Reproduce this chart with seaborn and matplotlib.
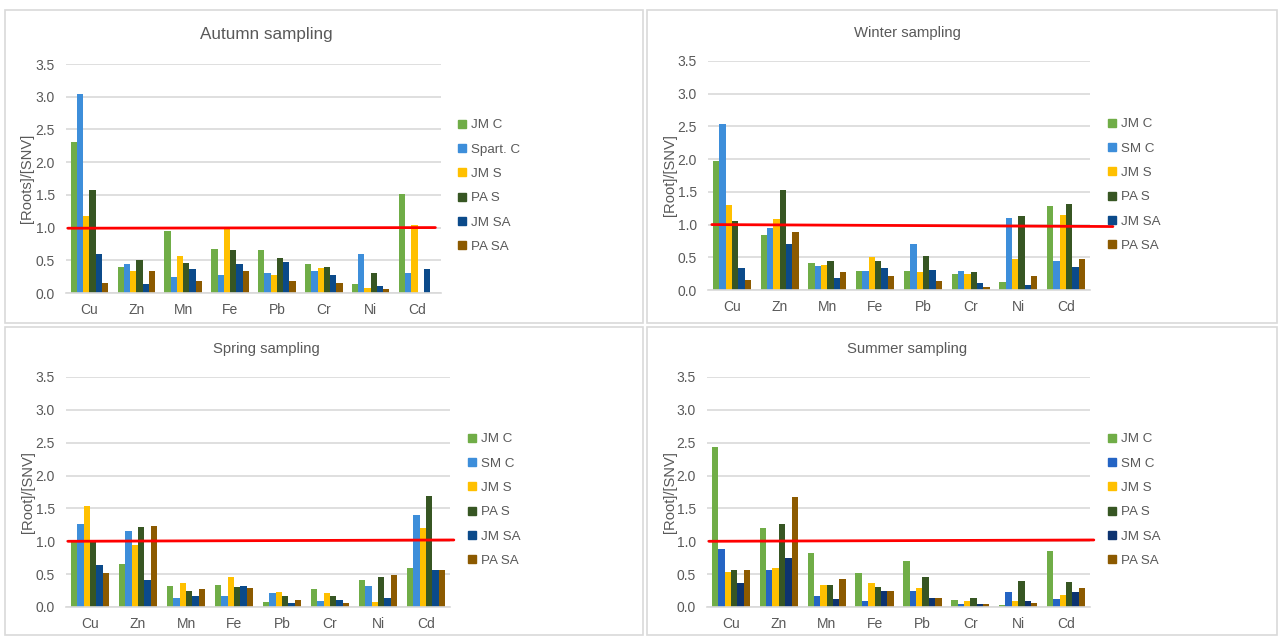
import numpy as np
import pandas as pd
import seaborn as sns
import matplotlib.pyplot as plt
from matplotlib.patches import Rectangle
from matplotlib.lines import Line2D

# Data
metals = ["Cu", "Zn", "Mn", "Fe", "Pb", "Cr", "Ni", "Cd"]
series_autumn = ["JM C", "Spart. C", "JM S", "PA S", "JM SA", "PA SA"]
series_other = ["JM C", "SM C", "JM S", "PA S", "JM SA", "PA SA"]

# one row per series, one column per metal
autumn_vals = [
    [2.31, 0.39, 0.95, 0.68, 0.65, 0.44, 0.14, 1.51],
    [3.04, 0.45, 0.25, 0.27, 0.30, 0.33, 0.59, 0.30],
    [1.17, 0.33, 0.56, 0.98, 0.27, 0.38, 0.08, 1.04],
    [1.57, 0.51, 0.46, 0.66, 0.54, 0.40, 0.30, 0.00],
    [0.60, 0.14, 0.36, 0.44, 0.48, 0.27, 0.10, 0.36],
    [0.16, 0.33, 0.19, 0.33, 0.19, 0.15, 0.06, 0.00],
]
winter_vals = [
    [1.97, 0.84, 0.42, 0.29, 0.29, 0.24, 0.12, 1.29],
    [2.54, 0.95, 0.36, 0.29, 0.71, 0.29, 1.10, 0.45],
    [1.30, 1.08, 0.38, 0.51, 0.28, 0.25, 0.47, 1.15],
    [1.05, 1.53, 0.44, 0.45, 0.52, 0.27, 1.13, 1.31],
    [0.33, 0.71, 0.19, 0.34, 0.30, 0.11, 0.07, 0.35],
    [0.15, 0.88, 0.28, 0.21, 0.13, 0.05, 0.22, 0.47],
]
spring_vals = [
    [1.01, 0.66, 0.32, 0.34, 0.08, 0.27, 0.41, 0.60],
    [1.27, 1.16, 0.14, 0.17, 0.21, 0.09, 0.32, 1.40],
    [1.54, 0.94, 0.37, 0.45, 0.23, 0.22, 0.08, 1.20],
    [1.01, 1.22, 0.24, 0.30, 0.16, 0.17, 0.46, 1.69],
    [0.64, 0.41, 0.16, 0.32, 0.06, 0.11, 0.14, 0.56],
    [0.52, 1.23, 0.28, 0.29, 0.10, 0.06, 0.48, 0.56],
]
summer_vals = [
    [2.44, 1.20, 0.82, 0.51, 0.70, 0.10, 0.03, 0.85],
    [0.89, 0.57, 0.16, 0.09, 0.24, 0.05, 0.23, 0.12],
    [0.53, 0.60, 0.34, 0.37, 0.29, 0.09, 0.09, 0.18],
    [0.57, 1.26, 0.33, 0.30, 0.46, 0.13, 0.40, 0.38],
    [0.36, 0.74, 0.12, 0.25, 0.14, 0.04, 0.09, 0.23],
    [0.56, 1.68, 0.43, 0.25, 0.13, 0.04, 0.06, 0.29],
]

colors = ["#70AD47", "#3D8EDA", "#FFC000", "#375623", "#0B4A8A", "#8C5A00"]
colors_summer = ["#70AD47", "#2464C4", "#FFC000", "#375623", "#0D3370", "#8C5A00"]
text_color = "#595959"
grid_color = "#D9D9D9"

sns.set_theme(style="white")
plt.rcParams['font.family'] = ['Liberation Sans', 'DejaVu Sans']

W, H = 1278, 636
fig = plt.figure(figsize=(W / 100, H / 100), dpi=100)


def px_rect(x0, y0, x1, y1):
    return [x0 / W, 1 - y1 / H, (x1 - x0) / W, (y1 - y0) / H]


def to_long(series, vals):
    rows = []
    for s, v in zip(series, vals):
        for m, val in zip(metals, v):
            rows.append({"metal": m, "series": s, "value": val})
    return pd.DataFrame(rows)


# panel borders
for x0, y0, x1, y1 in [(5, 10, 643, 323), (647, 10, 1277, 323),
                       (5, 327, 643, 635), (647, 327, 1277, 635)]:
    fig.patches.append(Rectangle((x0 / W, 1 - y1 / H), (x1 - x0) / W, (y1 - y0) / H,
                                 transform=fig.transFigure, fill=False,
                                 edgecolor=grid_color, lw=1.2))

panels = [
    # title, ylabel, series, values, colors, axes px, title px, title size,
    # legend px, ylabel x px, red line (x0, y0, x1, y1)
    ("Autumn sampling", "[Roots]/[SNV]", series_autumn, autumn_vals, colors,
     (66, 64, 441, 293), (266, 35), 12.3, (457, 186), 34, (0.005, 0.99, 0.985, 1.0)),
    ("Winter sampling", "[Root]/[SNV]", series_other, winter_vals, colors,
     (708, 61, 1090, 290), (907, 33), 10.7, (1107, 185), 677, (0.01, 1.0, 1.06, 0.97)),
    ("Spring sampling", "[Root]/[SNV]", series_other, spring_vals, colors,
     (66, 377, 450, 607), (266, 349), 10.7, (467, 500), 35, (0.005, 1.0, 1.01, 1.02)),
    ("Summer sampling", "[Root]/[SNV]", series_other, summer_vals, colors_summer,
     (707, 377, 1090, 607), (907, 349), 10.7, (1107, 500), 677, (0.005, 1.0, 1.01, 1.02)),
]

for title, ylab, series, vals, cols, apx, tpx, tsize, lpx, ylx, line in panels:
    ax = fig.add_axes(px_rect(*apx))
    df = to_long(series, vals)
    sns.barplot(data=df, x="metal", y="value", hue="series", order=metals,
                hue_order=series, palette=cols, saturation=1, width=0.8,
                linewidth=0, ax=ax, legend=False)
    ax.set_xlim(-0.5, 7.5)
    ax.set_ylim(0, 3.5)
    ax.set_yticks(np.arange(0, 3.51, 0.5))
    ax.set_yticklabels([f"{v:.1f}" for v in np.arange(0, 3.51, 0.5)])
    ax.yaxis.grid(True, color=grid_color, lw=1.2)
    ax.set_axisbelow(True)
    for s in ["top", "right", "left"]:
        ax.spines[s].set_visible(False)
    ax.spines["bottom"].set_color(grid_color)
    ax.spines["bottom"].set_linewidth(1.2)
    ax.tick_params(axis="both", length=0, labelsize=10, labelcolor=text_color)
    ax.tick_params(axis="y", pad=8)
    ax.tick_params(axis="x", pad=7)
    ax.set_xlabel("")
    ax.set_ylabel(ylab, fontsize=10.6, color=text_color)
    ax.yaxis.set_label_coords((ylx - apx[0]) / (apx[2] - apx[0]), 0.5)

    # reference line at ratio = 1
    x0, y0, x1, y1 = line
    ax.plot([x0, x1], [y0, y1], color="red", lw=2,
            transform=ax.get_yaxis_transform(), clip_on=False, zorder=5)

    fig.text(tpx[0] / W, 1 - tpx[1] / H, title, ha="center", va="center",
             fontsize=tsize, color=text_color)

    handles = [Line2D([], [], marker="s", linestyle="", color=c, markersize=6)
               for c in cols]
    ax.legend(handles, series, loc="center left",
              bbox_to_anchor=(lpx[0] / W, 1 - lpx[1] / H),
              bbox_transform=fig.transFigure, frameon=False, fontsize=9.6,
              labelcolor=text_color, handlelength=0.8, handletextpad=0.25,
              labelspacing=0.9, borderpad=0, borderaxespad=0)

fig.savefig("out.png", dpi=100, facecolor="white")
